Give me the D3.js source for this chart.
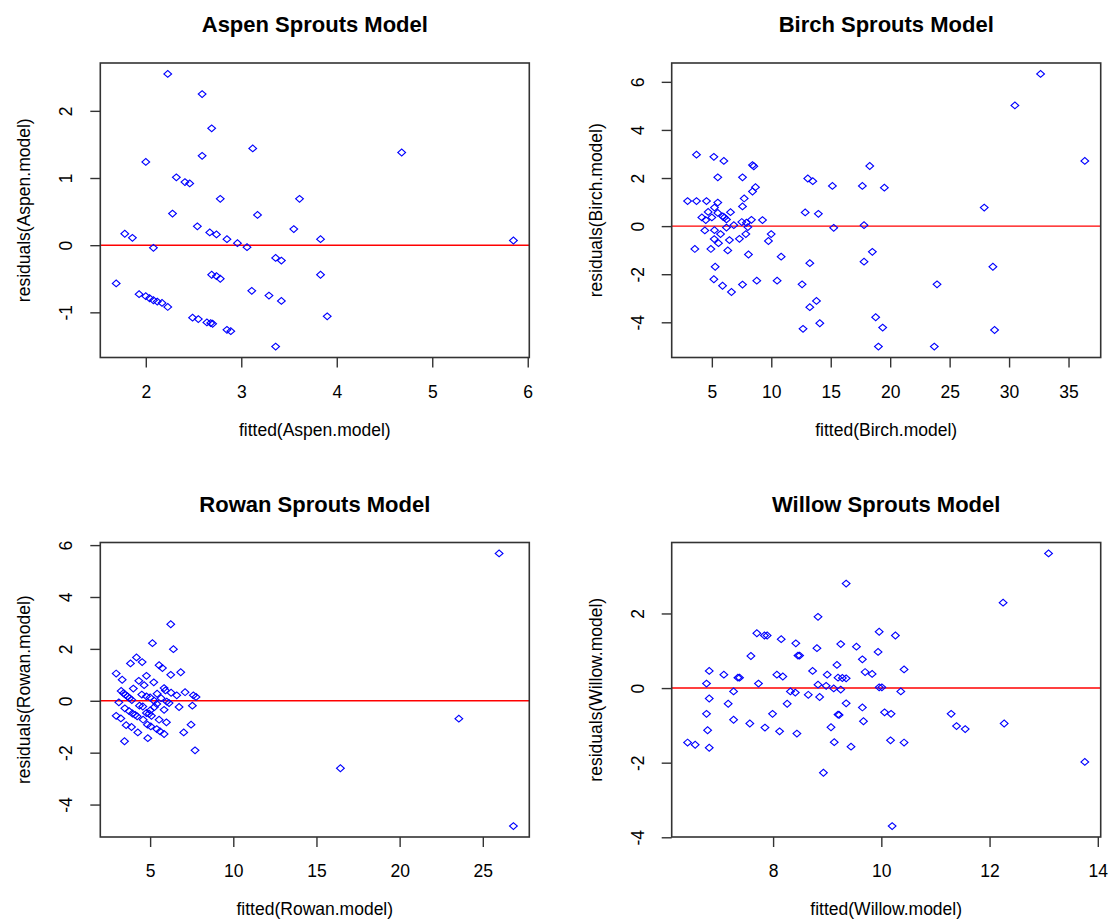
<!DOCTYPE html>
<head>
    <meta charset="utf-8">
    <script src="https://cdn.jsdelivr.net/npm/d3@7"></script>
    <style type="text/css">
        body { margin: 0; background: #fff; }
        text { font-family: Arial, "Liberation Sans", sans-serif; fill: #000; }
        .title { font-weight: bold; font-size: 22px; }
        .axis-label { font-size: 17.5px; }
    </style>
</head>
<body>
    <div id="chart"></div>
</body>
</html>

<script type="text/javascript">
	// [fitted, residual] pairs
	var aspen = [[2.23,2.55],[2.59,2.25],[2.69,1.74],[3.12,1.44],[2.59,1.33],[2.00,1.24],[2.32,1.01],
		[2.41,0.94],[2.46,0.92],[2.78,0.69],[3.61,0.69],[2.28,0.47],[3.17,0.45],[2.54,0.28],[3.55,0.24],
		[1.78,0.17],[1.86,0.11],[2.67,0.19],[2.74,0.16],[2.85,0.09],[2.96,0.03],[3.06,-0.03],[2.08,-0.04],
		[3.36,-0.19],[3.42,-0.23],[1.69,-0.57],[2.69,-0.44],[2.74,-0.46],[2.78,-0.50],[3.11,-0.68],
		[3.29,-0.75],[3.42,-0.83],[1.93,-0.73],[2.00,-0.76],[2.04,-0.79],[2.08,-0.82],[2.12,-0.84],
		[2.17,-0.86],[2.23,-0.92],[2.49,-1.08],[2.55,-1.10],[2.64,-1.15],[2.68,-1.16],[2.70,-1.17],
		[2.85,-1.26],[2.89,-1.28],[3.36,-1.51],[4.68,1.38],[3.83,0.09],[5.85,0.07],[3.83,-0.44],[3.90,-1.06]];

	var birch = [[3.71,2.97],[5.17,2.88],[6.01,2.71],[5.50,2.03],[7.58,2.03],[8.42,2.54],[8.53,2.49],
		[8.67,1.62],[8.42,1.44],[7.72,1.15],[7.58,0.82],[2.96,1.04],[3.71,1.04],[4.55,1.04],[5.50,0.98],
		[5.22,0.77],[4.69,0.59],[5.50,0.55],[6.57,0.58],[4.16,0.36],[4.49,0.25],[5.00,0.36],[5.92,0.40],
		[6.06,0.36],[6.23,0.28],[6.85,0.04],[7.52,0.17],[7.91,0.14],[8.33,0.26],[9.26,0.25],[8.03,-0.04],
		[4.41,-0.18],[5.22,-0.17],[5.73,-0.33],[6.23,-0.06],[7.86,-0.33],[9.99,-0.33],[5.20,-0.54],
		[5.56,-0.71],[6.48,-0.58],[7.32,-0.53],[9.76,-0.62],[3.57,-0.95],[4.92,-0.95],[6.34,-1.01],
		[8.08,-1.18],[10.83,-1.27],[5.28,-1.69],[5.17,-2.21],[5.90,-2.48],[6.65,-2.74],[7.58,-2.43],
		[8.78,-2.27],[10.49,-2.27],[32.65,6.33],[30.49,5.02],[36.37,2.71],[18.28,2.50],[13.07,1.98],
		[13.49,1.87],[15.14,1.67],[17.66,1.67],[19.51,1.60],[27.91,0.77],[12.85,0.57],[13.96,0.51],
		[15.25,-0.07],[17.80,0.04],[18.50,-1.07],[17.80,-1.48],[13.24,-1.54],[28.64,-1.69],[12.59,-2.42],
		[23.94,-2.42],[13.80,-3.11],[13.24,-3.37],[14.08,-4.04],[12.67,-4.27],[18.78,-3.79],[19.37,-4.22],
		[19.01,-5.01],[23.71,-5.01],[28.78,-4.32]];

	var rowan = [[6.24,2.95],[5.14,2.22],[6.40,1.99],[4.18,1.67],[3.82,1.44],[4.52,1.49],[5.54,1.37],
		[5.74,1.26],[6.24,1.00],[6.84,1.10],[2.96,1.05],[3.32,0.81],[4.32,0.77],[4.78,0.96],[5.22,0.71],
		[3.99,0.47],[3.26,0.38],[5.84,0.49],[5.92,0.40],[6.26,0.31],[6.60,0.21],[7.10,0.33],[7.60,0.21],
		[7.76,0.15],[5.42,0.27],[4.50,0.24],[4.78,0.17],[5.00,0.13],[3.40,0.29],[3.52,0.23],[3.64,0.17],
		[3.76,0.10],[3.90,0.03],[3.12,-0.06],[5.24,0.00],[5.40,-0.12],[6.00,-0.03],[6.14,-0.09],
		[6.74,-0.24],[7.54,-0.19],[3.48,-0.29],[3.74,-0.40],[4.36,-0.19],[4.56,-0.22],[5.00,-0.37],
		[5.84,-0.35],[2.96,-0.58],[3.24,-0.68],[3.94,-0.49],[4.10,-0.54],[4.22,-0.60],[4.58,-0.73],
		[4.78,-0.47],[4.94,-0.50],[5.08,-0.58],[5.54,-0.73],[5.98,-0.83],[3.56,-0.94],[3.88,-1.01],
		[4.26,-1.22],[4.84,-0.92],[5.04,-0.99],[5.40,-1.09],[5.60,-1.18],[5.84,-1.28],[7.46,-0.92],
		[7.02,-1.22],[3.46,-1.56],[4.86,-1.44],[7.70,-1.91],[4.64,0.60],[5.66,0.10],[5.26,-0.24],
		[25.98,5.68],[23.56,-0.69],[16.44,-2.60],[26.84,-4.83]];

	var willow = [[8.83,1.91],[7.70,1.47],[7.84,1.41],[7.89,1.41],[8.15,1.31],[8.42,1.20],[8.81,1.07],
		[7.59,0.86],[8.46,0.87],[8.49,0.87],[9.18,0.62],[6.82,0.46],[7.09,0.36],[7.35,0.28],[7.38,0.28],
		[8.07,0.36],[8.18,0.31],[8.73,0.46],[9.00,0.36],[9.20,0.28],[6.77,0.12],[7.73,0.12],[8.83,0.09],
		[8.98,0.06],[9.12,-0.01],[7.27,-0.09],[8.32,-0.09],[8.41,-0.12],[8.65,-0.18],[8.86,-0.24],
		[6.82,-0.28],[7.17,-0.42],[8.26,-0.42],[6.77,-0.69],[7.99,-0.69],[9.20,-0.71],[7.27,-0.85],
		[7.57,-0.95],[7.85,-1.06],[6.79,-1.13],[8.12,-1.16],[8.44,-1.22],[9.07,-1.05],[6.42,-1.46],
		[6.56,-1.52],[6.82,-1.60],[9.13,-1.45],[8.93,-2.27],[13.09,3.61],[12.25,2.29],[9.35,2.80],
		[9.96,1.51],[10.26,1.41],[9.25,1.18],[9.54,1.11],[9.94,0.97],[9.65,0.77],[10.42,0.50],[9.70,0.43],
		[9.83,0.38],[9.28,0.27],[9.35,0.26],[9.25,-0.04],[9.96,0.02],[10.01,0.02],[10.36,-0.09],
		[9.35,-0.41],[9.65,-0.52],[9.22,-0.72],[10.06,-0.65],[10.18,-0.69],[11.29,-0.69],[9.67,-0.89],
		[11.39,-1.02],[11.55,-1.10],[12.27,-0.95],[9.44,-1.57],[10.17,-1.40],[10.42,-1.46],[13.76,-1.98],
		[10.20,-3.70]];

	var names = ["Aspen", "Birch", "Rowan", "Willow"];
	var xTicks = [[2, 3, 4, 5, 6], [5, 10, 15, 20, 25, 30, 35], [5, 10, 15, 20, 25], [8, 10, 12, 14]];
	var yTicks = [[-1, 0, 1, 2], [-4, -2, 0, 2, 4, 6], [-4, -2, 0, 2, 4, 6], [-4, -2, 0, 2]];
	var series = [aspen, birch, rowan, willow];

	var width = 1113, height = 924;
	var plotW = 429, plotH = 294.5;
	var lefts = [100.3, 671.7], tops = [63, 542.5];
	// plain hyphen minus, like R prints it
	var fmt = function(d) { return String(d); };

	var svg = d3.select("#chart").append("svg")
		.attr("width", width)
		.attr("height", height);

	// R style axis range: data range padded by 4% each side
	function padded(ext) {
		var p = (ext[1] - ext[0]) * 0.04;
		return [ext[0] - p, ext[1] + p];
	}

	names.forEach(function(name, i) {
		var data = series[i];
		var left = lefts[i % 2], top = tops[Math.floor(i / 2)];

		var x = d3.scaleLinear()
			.domain(padded(d3.extent(data, function(d) { return d[0]; })))
			.range([0, plotW]);
		var y = d3.scaleLinear()
			.domain(padded(d3.extent(data, function(d) { return d[1]; })))
			.range([plotH, 0]);

		var g = svg.append("g")
			.attr("transform", "translate(" + left + "," + top + ")");

		// title
		g.append("text")
			.attr("class", "title")
			.attr("x", plotW / 2)
			.attr("y", -31)
			.attr("text-anchor", "middle")
			.text(name + " Sprouts Model");

		// x axis
		var xAxis = g.append("g")
			.attr("transform", "translate(0," + plotH + ")")
			.call(d3.axisBottom(x).tickValues(xTicks[i]).tickFormat(fmt).tickSize(10).tickSizeOuter(0));
		xAxis.select(".domain").remove();
		xAxis.selectAll("line").attr("stroke", "#333").attr("stroke-width", 1.4);
		xAxis.selectAll("text")
			.attr("fill", "#000")
			.attr("y", 40)
			.attr("dy", null)
			.style("font-size", "17.5px")
			.style("font-family", "Arial, 'Liberation Sans', sans-serif");

		// y axis, labels turned like R's las=0
		var yAxis = g.append("g")
			.call(d3.axisLeft(y).tickValues(yTicks[i]).tickFormat(fmt).tickSize(10).tickSizeOuter(0));
		yAxis.select(".domain").remove();
		yAxis.selectAll("line").attr("stroke", "#333").attr("stroke-width", 1.4);
		yAxis.selectAll("text")
			.attr("fill", "#000")
			.attr("x", null)
			.attr("dy", null)
			.attr("text-anchor", "middle")
			.attr("transform", "translate(-28,0) rotate(-90)")
			.style("font-size", "17.5px")
			.style("font-family", "Arial, 'Liberation Sans', sans-serif");

		g.append("text")
			.attr("class", "axis-label")
			.attr("x", plotW / 2)
			.attr("y", plotH + 78)
			.attr("text-anchor", "middle")
			.text("fitted(" + name + ".model)");

		g.append("text")
			.attr("class", "axis-label")
			.attr("text-anchor", "middle")
			.attr("transform", "translate(-70," + (plotH / 2) + ") rotate(-90)")
			.text("residuals(" + name + ".model)");

		// zero line
		g.append("line")
			.attr("x1", 0)
			.attr("x2", plotW)
			.attr("y1", y(0))
			.attr("y2", y(0))
			.attr("stroke", "#ff0000")
			.attr("stroke-width", 1.4);

		// points (open diamonds)
		var diamond = d3.symbol().type(d3.symbolSquare).size(30);
		g.selectAll(".pt")
			.data(data)
		  .enter().append("path")
			.attr("class", "pt")
			.attr("d", diamond)
			.attr("transform", function(d) {
				return "translate(" + x(d[0]) + "," + y(d[1]) + ") scale(1,0.88) rotate(45)";
			})
			.attr("fill", "none")
			.attr("stroke", "#0000ff")
			.attr("stroke-width", 1.2);

		// box
		g.append("rect")
			.attr("width", plotW)
			.attr("height", plotH)
			.attr("fill", "none")
			.attr("stroke", "#333")
			.attr("stroke-width", 1.6);
	});
</script>
